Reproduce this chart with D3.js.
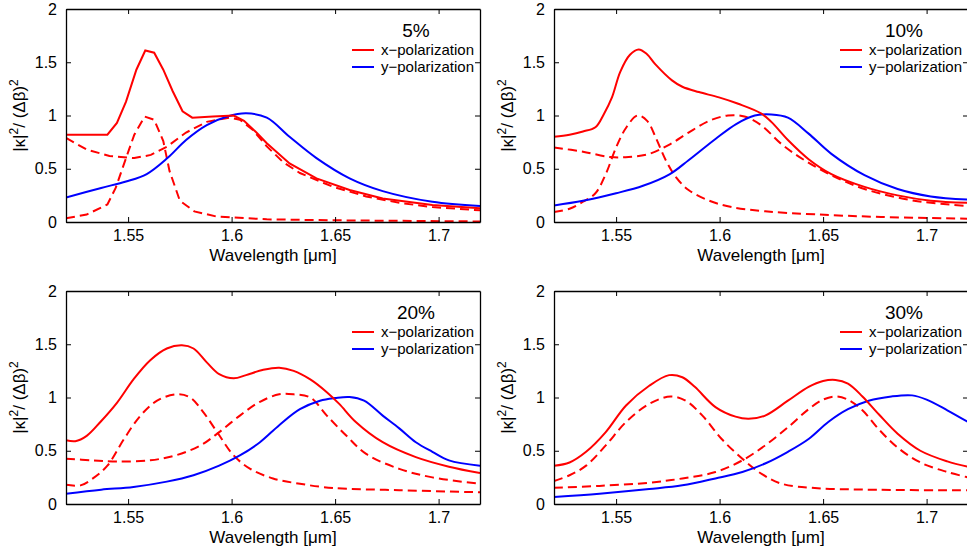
<!DOCTYPE html>
<html>
<head>
<meta charset="utf-8">
<script src="https://cdn.jsdelivr.net/npm/d3@7"></script>
<style>
  body { margin: 0; background: #fff; }
  svg { display: block; font-family: "Liberation Sans", Arial, sans-serif; }
</style>
</head>
<body>
<div class="canvas"></div>
<script>
// tick values and labels
var xTicks = [1.55, 1.6, 1.65, 1.7];
var yTicks = [0, 0.5, 1, 1.5, 2];
var titles = ['5%', '10%', '20%', '30%'];
var legendLabels = ['x\u2212polarization', 'y\u2212polarization'];

// 5% : [wavelength, |k|^2/(dB)^2]
var xpol5 = [[1.52,0.82],[1.540,0.82],[1.5446,0.93],[1.549,1.13],[1.554,1.43],[1.5583,1.61],[1.5626,1.59],[1.567,1.43],[1.5715,1.23],[1.5763,1.04],[1.581,0.98],[1.591,0.99],[1.601,1.00],[1.606,0.95],[1.612,0.84],[1.617,0.74],[1.628,0.55],[1.641,0.41],[1.657,0.30],[1.673,0.22],[1.697,0.16],[1.72,0.13]];
var broad5 = [[1.52,0.79],[1.530,0.68],[1.541,0.62],[1.553,0.60],[1.561,0.63],[1.569,0.71],[1.578,0.84],[1.588,0.94],[1.599,0.98],[1.604,0.96],[1.610,0.87],[1.617,0.71],[1.625,0.56],[1.633,0.46],[1.649,0.33],[1.665,0.24],[1.681,0.18],[1.697,0.14],[1.72,0.11]];
var narrow5 = [[1.52,0.035],[1.530,0.07],[1.540,0.165],[1.544,0.32],[1.549,0.60],[1.553,0.82],[1.558,0.99],[1.5626,0.96],[1.567,0.76],[1.570,0.48],[1.575,0.20],[1.582,0.10],[1.593,0.05],[1.617,0.025],[1.649,0.016],[1.72,0.005]];
var ypol5 = [[1.52,0.23],[1.537,0.32],[1.549,0.38],[1.559,0.45],[1.569,0.60],[1.578,0.77],[1.588,0.91],[1.598,0.99],[1.607,1.02],[1.617,0.98],[1.628,0.80],[1.641,0.60],[1.657,0.41],[1.673,0.29],[1.697,0.19],[1.72,0.15]];

// 10%
var xpol10 = [[1.52,0.80],[1.5275,0.82],[1.534,0.85],[1.540,0.89],[1.544,1.01],[1.548,1.17],[1.552,1.41],[1.5567,1.57],[1.5609,1.62],[1.5647,1.58],[1.569,1.48],[1.577,1.33],[1.582,1.27],[1.590,1.22],[1.5997,1.17],[1.609,1.11],[1.620,1.02],[1.625,0.94],[1.633,0.77],[1.643,0.59],[1.654,0.45],[1.670,0.33],[1.686,0.25],[1.702,0.20],[1.72,0.18]];
var broad10 = [[1.52,0.70],[1.534,0.66],[1.547,0.61],[1.556,0.61],[1.566,0.64],[1.576,0.73],[1.585,0.84],[1.595,0.95],[1.604,1.00],[1.612,0.99],[1.620,0.91],[1.630,0.73],[1.641,0.58],[1.654,0.44],[1.670,0.31],[1.694,0.20],[1.72,0.15]];
var narrow10 = [[1.52,0.094],[1.5275,0.125],[1.534,0.19],[1.540,0.27],[1.545,0.45],[1.550,0.70],[1.555,0.89],[1.5604,1.00],[1.565,0.95],[1.569,0.80],[1.574,0.58],[1.579,0.42],[1.585,0.30],[1.595,0.20],[1.606,0.14],[1.622,0.10],[1.646,0.072],[1.678,0.047],[1.72,0.031]];
var ypol10 = [[1.52,0.156],[1.534,0.20],[1.550,0.27],[1.563,0.34],[1.576,0.45],[1.585,0.58],[1.598,0.78],[1.608,0.92],[1.617,1.00],[1.625,1.01],[1.633,0.98],[1.643,0.83],[1.654,0.64],[1.670,0.44],[1.686,0.31],[1.702,0.24],[1.72,0.21]];

// 20%
var xpol20 = [[1.52,0.60],[1.5245,0.59],[1.530,0.64],[1.5366,0.77],[1.5446,0.95],[1.5526,1.17],[1.5607,1.35],[1.5687,1.46],[1.576,1.49],[1.5816,1.46],[1.588,1.33],[1.594,1.22],[1.601,1.18],[1.607,1.21],[1.6153,1.26],[1.623,1.28],[1.630,1.25],[1.638,1.17],[1.646,1.05],[1.652,0.94],[1.660,0.77],[1.673,0.58],[1.689,0.44],[1.705,0.35],[1.72,0.29]];
var broad20 = [[1.52,0.425],[1.533,0.41],[1.5446,0.40],[1.5607,0.41],[1.5735,0.46],[1.585,0.55],[1.594,0.675],[1.604,0.83],[1.6137,0.96],[1.623,1.03],[1.630,1.03],[1.638,1.00],[1.646,0.83],[1.6555,0.64],[1.665,0.47],[1.681,0.33],[1.697,0.25],[1.72,0.19]];
var narrow20 = [[1.52,0.18],[1.527,0.175],[1.533,0.24],[1.540,0.36],[1.548,0.61],[1.556,0.83],[1.564,0.97],[1.5735,1.03],[1.58,1.00],[1.5864,0.86],[1.593,0.675],[1.601,0.456],[1.609,0.33],[1.620,0.24],[1.633,0.19],[1.649,0.15],[1.681,0.13],[1.72,0.11]];
var ypol20 = [[1.52,0.097],[1.537,0.134],[1.5526,0.16],[1.5687,0.21],[1.5816,0.27],[1.594,0.36],[1.604,0.456],[1.6137,0.58],[1.623,0.74],[1.633,0.89],[1.6427,0.97],[1.650,0.995],[1.657,1.005],[1.664,0.97],[1.673,0.83],[1.681,0.71],[1.689,0.58],[1.697,0.49],[1.705,0.41],[1.72,0.36]];

// 30%
var xpol30 = [[1.52,0.36],[1.5275,0.39],[1.5355,0.49],[1.545,0.675],[1.5548,0.925],[1.566,1.11],[1.5756,1.21],[1.582,1.19],[1.588,1.10],[1.598,0.91],[1.6077,0.82],[1.614,0.80],[1.622,0.83],[1.633,0.97],[1.643,1.10],[1.650,1.155],[1.656,1.165],[1.662,1.13],[1.669,1.01],[1.677,0.84],[1.686,0.66],[1.697,0.50],[1.710,0.40],[1.72,0.35]];
var narrow30 = [[1.52,0.215],[1.5275,0.27],[1.5355,0.36],[1.545,0.55],[1.5548,0.77],[1.566,0.94],[1.5764,1.01],[1.5836,0.97],[1.5917,0.83],[1.601,0.61],[1.611,0.425],[1.6205,0.28],[1.630,0.19],[1.646,0.15],[1.67,0.135],[1.72,0.128]];
var broad30 = [[1.52,0.153],[1.542,0.17],[1.566,0.20],[1.582,0.24],[1.598,0.30],[1.611,0.41],[1.622,0.55],[1.633,0.72],[1.643,0.89],[1.650,0.98],[1.656,1.01],[1.662,0.98],[1.669,0.88],[1.677,0.70],[1.686,0.53],[1.697,0.39],[1.710,0.30],[1.72,0.25]];
var ypol30 = [[1.52,0.066],[1.542,0.097],[1.566,0.14],[1.582,0.175],[1.598,0.24],[1.611,0.30],[1.622,0.38],[1.633,0.49],[1.643,0.61],[1.6525,0.77],[1.662,0.89],[1.672,0.97],[1.683,1.01],[1.693,1.02],[1.700,0.98],[1.710,0.88],[1.72,0.77]];

var width = 967, height = 550;
var red = '#ff0000', blue = '#0000ff';

var svg = d3.select('.canvas')
  .append('svg')
  .attr('width', width)
  .attr('height', height);

// one entry per subplot
var panels = [
  { title: titles[0], xpol: xpol5,  dashed: [broad5, narrow5],   ypol: ypol5,  left: 66,  top: 9,   sharp: true },
  { title: titles[1], xpol: xpol10, dashed: [broad10, narrow10], ypol: ypol10, left: 554, top: 9,   sharp: false },
  { title: titles[2], xpol: xpol20, dashed: [broad20, narrow20], ypol: ypol20, left: 66,  top: 291, sharp: false },
  { title: titles[3], xpol: xpol30, dashed: [broad30, narrow30], ypol: ypol30, left: 554, top: 291, sharp: false }
];
var pw = 414, ph = 213;

panels.forEach(function(p, i) {
  var g = svg.append('g').attr('transform', 'translate(' + p.left + ',' + p.top + ')');

  var xscale = d3.scaleLinear().domain([1.52, 1.72]).range([0, pw]);
  var yscale = d3.scaleLinear().domain([0, 2]).range([ph, 0]);

  var clipId = 'clip' + i;
  g.append('clipPath').attr('id', clipId)
    .append('rect').attr('width', pw).attr('height', ph);

  var smooth = d3.line()
    .x(function(d) { return xscale(d[0]); })
    .y(function(d) { return yscale(d[1]); })
    .curve(d3.curveCatmullRom.alpha(0.5));
  // the 5% x-polarization data is coarse, drawn with straight segments
  var redLine = p.sharp ? d3.line()
    .x(function(d) { return xscale(d[0]); })
    .y(function(d) { return yscale(d[1]); }) : smooth;

  var plot = g.append('g').attr('clip-path', 'url(#' + clipId + ')');

  p.dashed.forEach(function(s) {
    plot.append('path').attr('d', redLine(s))
      .attr('fill', 'none').attr('stroke', red).attr('stroke-width', 2)
      .attr('stroke-dasharray', '9,5');
  });
  plot.append('path').attr('d', smooth(p.ypol))
    .attr('fill', 'none').attr('stroke', blue).attr('stroke-width', 2);
  plot.append('path').attr('d', redLine(p.xpol))
    .attr('fill', 'none').attr('stroke', red).attr('stroke-width', 2);

  // axes with inward ticks, box style
  var xaxis = d3.axisBottom(xscale).tickValues(xTicks).tickSizeInner(-5).tickSizeOuter(0)
    .tickPadding(8).tickFormat(d3.format('~g'));
  var yaxis = d3.axisLeft(yscale).tickValues(yTicks).tickSizeInner(-5).tickSizeOuter(0)
    .tickPadding(9).tickFormat(d3.format('~g'));

  g.append('g').attr('class', 'axis').attr('transform', 'translate(0,' + ph + ')').call(xaxis);
  g.append('g').attr('class', 'axis').call(yaxis);
  g.append('g').attr('class', 'axis')
    .call(d3.axisTop(xscale).tickValues(xTicks).tickSizeInner(-5).tickSizeOuter(0).tickFormat(''));
  g.append('g').attr('class', 'axis').attr('transform', 'translate(' + pw + ',0)')
    .call(d3.axisRight(yscale).tickValues(yTicks).tickSizeInner(-5).tickSizeOuter(0).tickFormat(''));

  g.selectAll('.axis path').attr('stroke', '#000').attr('stroke-width', 1.3);
  g.selectAll('.axis line').attr('stroke', '#000').attr('stroke-width', 1);
  g.selectAll('.axis text').attr('font-size', 16).attr('fill', '#000')
    .attr('font-family', '"Liberation Sans", Arial, sans-serif');

  // x label
  g.append('text')
    .attr('x', pw / 2).attr('y', ph + 39)
    .attr('text-anchor', 'middle').attr('font-size', 17)
    .text('Wavelength [\u03bcm]');

  // y label
  var yl = g.append('text')
    .attr('transform', 'translate(-41,' + (ph / 2) + ') rotate(-90)')
    .attr('text-anchor', 'middle').attr('font-size', 17);
  yl.append('tspan').text('|\u03ba|');
  yl.append('tspan').attr('baseline-shift', 'super').attr('font-size', 12).text('2');
  yl.append('tspan').text('/ (\u0394\u03b2)');
  yl.append('tspan').attr('baseline-shift', 'super').attr('font-size', 12).text('2');

  // legend
  var lx = pw - 128;
  g.append('text')
    .attr('x', pw - 64).attr('y', 28)
    .attr('text-anchor', 'middle').attr('font-size', 19)
    .text(p.title);
  [red, blue].forEach(function(c, k) {
    var ly = 41 + k * 17;
    g.append('line').attr('x1', lx).attr('x2', lx + 22).attr('y1', ly).attr('y2', ly)
      .attr('stroke', c).attr('stroke-width', 2);
    g.append('text').attr('x', lx + 29).attr('y', ly + 5)
      .attr('font-size', 15).text(legendLabels[k]);
  });
});
</script>
</body>
</html>
